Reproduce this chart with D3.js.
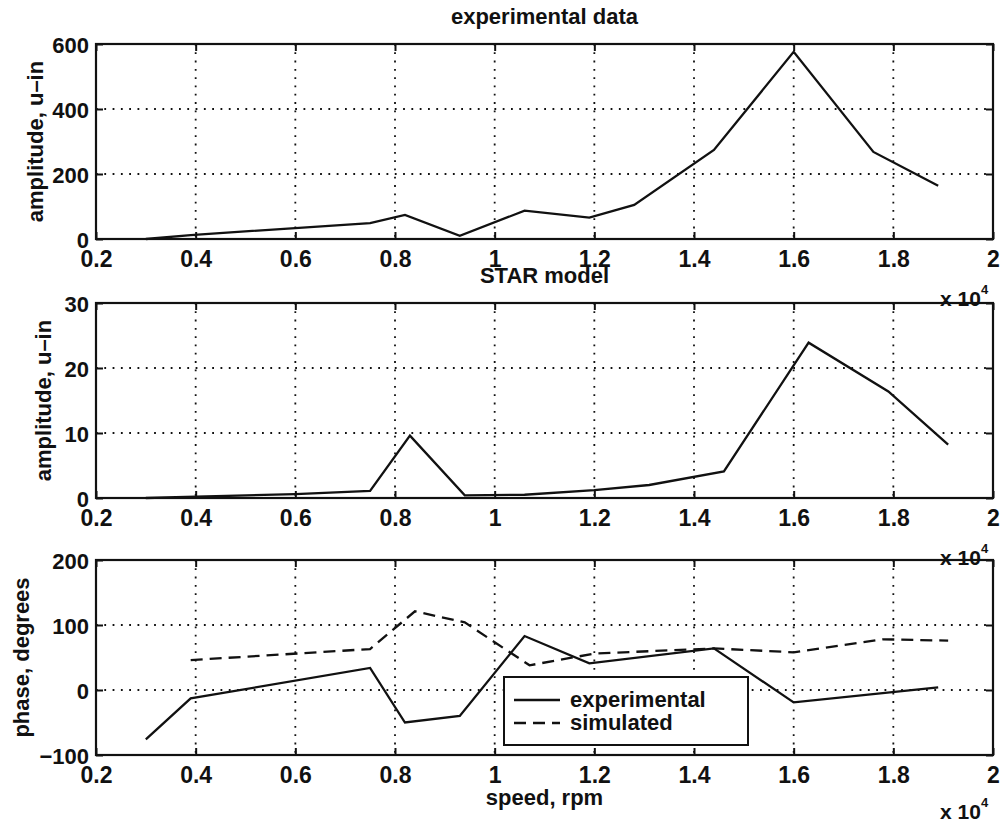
<!DOCTYPE html>
<html>
<head>
<meta charset="utf-8">
<script src="https://cdn.jsdelivr.net/npm/d3@7"></script>
<style>
body { margin: 0; background: #fff; }
svg text { font-family: "Liberation Sans", Arial, Helvetica, sans-serif; font-weight: bold; fill: #111; }
</style>
</head>
<body>
<div id="chart"></div>
<script>
// speeds are in units of 10^4 rpm (matlab style "x 10^4" axis)
var expSpeed   = [0.30, 0.39, 0.75, 0.82, 0.93, 1.06, 1.19, 1.28, 1.44, 1.60, 1.76, 1.89];
var expAmp     = [0, 12, 49, 74, 10, 87, 66, 105, 274, 576, 268, 164];

var starSpeed  = [0.30, 0.60, 0.75, 0.83, 0.94, 1.06, 1.20, 1.31, 1.46, 1.63, 1.79, 1.91];
var starAmp    = [0, 0.6, 1.1, 9.6, 0.4, 0.5, 1.2, 2.0, 4.1, 23.9, 16.4, 8.2];

var phaseExpSpeed = [0.30, 0.39, 0.75, 0.82, 0.93, 1.06, 1.19, 1.44, 1.60, 1.89];
var phaseExp      = [-76, -13, 34, -50, -40, 83, 41, 64, -19, 4];

var phaseSimSpeed = [0.39, 0.75, 0.84, 0.94, 1.07, 1.20, 1.44, 1.60, 1.78, 1.91];
var phaseSim      = [46, 63, 121, 104, 38, 56, 64, 58, 78, 76];

var xTicks      = [0.2, 0.4, 0.6, 0.8, 1.0, 1.2, 1.4, 1.6, 1.8, 2.0];
var xTickLabels = ["0.2", "0.4", "0.6", "0.8", "1", "1.2", "1.4", "1.6", "1.8", "2"];

var ampTicks   = [0, 200, 400, 600];
var starTicks  = [0, 10, 20, 30];
var phaseTicks = [-100, 0, 100, 200];
var phaseTickLabels = ["\u2212100", "0", "100", "200"];

//Canvas size
var WIDTH = 1003, HEIGHT = 824;
var LEFT = 96, RIGHT = 993;

var svg = d3.select("#chart").append("svg")
    .attr("width", WIDTH)
    .attr("height", HEIGHT);

var x = d3.scaleLinear().domain([0.2, 2]).range([LEFT, RIGHT]);

var panels = [
  {top: 44,  bottom: 239, domain: [0, 600],    ticks: ampTicks,   labels: null,
   title: "experimental data", ylabel: "amplitude, u\u2013in", ylabelX: 43, expY: 306,
   series: [{xs: expSpeed, ys: expAmp, dash: null}]},
  {top: 303, bottom: 498, domain: [0, 30],     ticks: starTicks,  labels: null,
   title: "STAR model", ylabel: "amplitude, u\u2013in", ylabelX: 51, expY: 565,
   series: [{xs: starSpeed, ys: starAmp, dash: null}]},
  {top: 560, bottom: 755, domain: [-100, 200], ticks: phaseTicks, labels: phaseTickLabels,
   title: null, ylabel: "phase, degrees", ylabelX: 29, expY: 819,
   series: [{xs: phaseExpSpeed, ys: phaseExp, dash: null},
            {xs: phaseSimSpeed, ys: phaseSim, dash: "12,7"}]}
];

panels.forEach(function(p) {
  var y = d3.scaleLinear().domain(p.domain).range([p.bottom, p.top]);
  var g = svg.append("g");

  // dotted grid
  g.selectAll(".vgrid").data(xTicks.slice(1, -1)).enter().append("line")
    .attr("x1", function(d) { return x(d); }).attr("x2", function(d) { return x(d); })
    .attr("y1", p.top).attr("y2", p.bottom)
    .attr("stroke", "#111").attr("stroke-width", 1.8).attr("stroke-dasharray", "1.8,6.5");
  g.selectAll(".hgrid").data(p.ticks.slice(1, -1)).enter().append("line")
    .attr("x1", LEFT).attr("x2", RIGHT)
    .attr("y1", function(d) { return y(d); }).attr("y2", function(d) { return y(d); })
    .attr("stroke", "#111").attr("stroke-width", 1.8).attr("stroke-dasharray", "1.8,6.5");

  // axes, ticks pointing inwards on all four sides
  var bottomAxis = g.append("g").attr("transform", "translate(0," + p.bottom + ")")
    .call(d3.axisBottom(x).tickValues(xTicks).tickSize(-7).tickSizeOuter(0).tickPadding(12)
      .tickFormat(function(d, i) { return xTickLabels[i]; }));
  g.append("g").attr("transform", "translate(0," + p.top + ")")
    .call(d3.axisTop(x).tickValues(xTicks).tickSize(-7).tickSizeOuter(0).tickFormat(""));
  var leftAxis = g.append("g").attr("transform", "translate(" + LEFT + ",0)")
    .call(d3.axisLeft(y).tickValues(p.ticks).tickSize(-7).tickSizeOuter(0).tickPadding(7)
      .tickFormat(function(d, i) { return p.labels ? p.labels[i] : d; }));
  g.append("g").attr("transform", "translate(" + RIGHT + ",0)")
    .call(d3.axisRight(y).tickValues(p.ticks).tickSize(-7).tickSizeOuter(0).tickFormat(""));

  g.selectAll(".domain").remove();
  g.selectAll(".tick line").attr("stroke", "#111").attr("stroke-width", 2);
  g.selectAll(".tick text").attr("font-family", null).attr("font-size", 22).attr("fill", "#111");
  bottomAxis.selectAll(".tick text").attr("font-size", 23);
  leftAxis.selectAll(".tick text").attr("dy", "0.38em");

  // box
  g.append("rect").attr("x", LEFT).attr("y", p.top)
    .attr("width", RIGHT - LEFT).attr("height", p.bottom - p.top)
    .attr("fill", "none").attr("stroke", "#111").attr("stroke-width", 2.2);

  // data lines
  p.series.forEach(function(s) {
    var pts = s.xs.map(function(v, i) { return [v, s.ys[i]]; });
    g.append("path").datum(pts)
      .attr("d", d3.line().x(function(d) { return x(d[0]); }).y(function(d) { return y(d[1]); }))
      .attr("fill", "none").attr("stroke", "#111").attr("stroke-width", 2.3)
      .attr("stroke-linejoin", "miter")
      .attr("stroke-dasharray", s.dash);
  });

  if (p.title) {
    g.append("text").attr("x", (LEFT + RIGHT) / 2).attr("y", p.top - 20)
      .attr("text-anchor", "middle").attr("font-size", 22).text(p.title);
  }
  g.append("text")
    .attr("transform", "translate(" + p.ylabelX + "," + ((p.top + p.bottom) / 2) + ") rotate(-90)")
    .attr("text-anchor", "middle").attr("font-size", 22).text(p.ylabel);

  // exponent label
  var ex = g.append("text").attr("x", 940).attr("y", p.expY).attr("font-size", 21);
  ex.append("tspan").text("x 10");
  ex.append("tspan").attr("dy", -12).attr("font-size", 13).text("4");
});

svg.append("text").attr("x", (LEFT + RIGHT) / 2).attr("y", 805)
  .attr("text-anchor", "middle").attr("font-size", 22).text("speed, rpm");

// legend
var leg = svg.append("g").attr("transform", "translate(504,677)");
leg.append("rect").attr("width", 244).attr("height", 68)
  .attr("fill", "#fff").attr("stroke", "#111").attr("stroke-width", 2);
var legItems = [{name: "experimental", dash: null}, {name: "simulated", dash: "12,7"}];
leg.selectAll(".item").data(legItems).enter().append("line")
  .attr("x1", 10).attr("x2", 56)
  .attr("y1", function(d, i) { return 23 + i * 23; }).attr("y2", function(d, i) { return 23 + i * 23; })
  .attr("stroke", "#111").attr("stroke-width", 2.3)
  .attr("stroke-dasharray", function(d) { return d.dash; });
leg.selectAll(".label").data(legItems).enter().append("text")
  .attr("x", 66).attr("y", function(d, i) { return 30 + i * 23; })
  .attr("font-size", 22).text(function(d) { return d.name; });
</script>
</body>
</html>
